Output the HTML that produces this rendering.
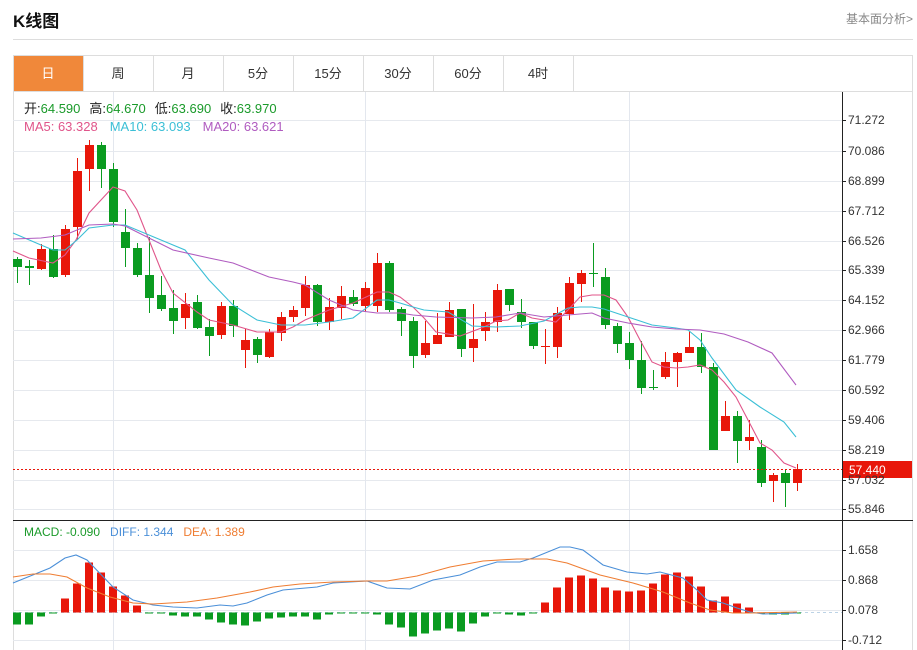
<!DOCTYPE html>
<html><head><meta charset="utf-8">
<style>
body{margin:0;width:917px;height:650px;background:#fff;font-family:"Liberation Sans","Noto Sans CJK SC",sans-serif;overflow:hidden;position:relative}
.t{position:absolute;white-space:nowrap}
</style></head><body>
<div class="t" style="left:13px;top:7px;font-size:17px;font-weight:bold;color:#111">K线图</div>
<div class="t" style="left:846px;top:10px;font-size:12px;color:#888">基本面分析&gt;</div>
<div style="position:absolute;left:13px;top:39px;width:900px;height:1px;background:#ddd"></div>
<svg id="s" width="917" height="650" style="position:absolute;left:0;top:0" xmlns="http://www.w3.org/2000/svg" font-family="Liberation Sans, Noto Sans CJK SC, sans-serif">
<rect x="13.5" y="55.5" width="899" height="600" fill="none" stroke="#ddd"/>
<line x1="13" y1="91.5" x2="913" y2="91.5" stroke="#ddd"/>
<rect x="14" y="56" width="69" height="35" fill="#f0883a"/>
<g stroke="#ddd"><line x1="83.5" y1="56" x2="83.5" y2="91"/><line x1="153.5" y1="56" x2="153.5" y2="91"/><line x1="223.5" y1="56" x2="223.5" y2="91"/><line x1="293.5" y1="56" x2="293.5" y2="91"/><line x1="363.5" y1="56" x2="363.5" y2="91"/><line x1="433.5" y1="56" x2="433.5" y2="91"/><line x1="503.5" y1="56" x2="503.5" y2="91"/><line x1="573.5" y1="56" x2="573.5" y2="91"/></g>
<g font-size="13" text-anchor="middle" fill="#333"><text x="48" y="78" fill="#fff">日</text><text x="118" y="78">周</text><text x="188" y="78">月</text><text x="258" y="78">5分</text><text x="328" y="78">15分</text><text x="398" y="78">30分</text><text x="468" y="78">60分</text><text x="538" y="78">4时</text></g>
<g id="grid" stroke="#e6e9ee"></g>
<g stroke="#e3e7ee"><line x1="113.5" y1="92" x2="113.5" y2="650"/><line x1="365.5" y1="92" x2="365.5" y2="650"/><line x1="629.5" y1="92" x2="629.5" y2="650"/></g>
<line x1="842.5" y1="92" x2="842.5" y2="650" stroke="#222"/>
<line x1="13" y1="520.5" x2="913" y2="520.5" stroke="#222"/>
<line x1="13" y1="612.5" x2="842" y2="612.5" stroke="#bcd3e6" stroke-dasharray="3,3"/>
<g id="c"></g>
<g id="ma" fill="none" stroke-width="1.1"></g>
<line x1="13" y1="469.5" x2="842" y2="469.5" stroke="#e8170a" stroke-dasharray="2,2"/>
<rect x="843" y="461" width="69" height="17" fill="#e8170a"/>
<text x="849" y="474" font-size="12" fill="#fff">57.440</text>
<g font-size="12" fill="#333" id="ax"></g>
<text x="24" y="113" font-size="13"><tspan fill="#222">开:</tspan><tspan fill="#1a9a2a">64.590</tspan><tspan fill="#222" dx="9">高:</tspan><tspan fill="#1a9a2a">64.670</tspan><tspan fill="#222" dx="9">低:</tspan><tspan fill="#1a9a2a">63.690</tspan><tspan fill="#222" dx="9">收:</tspan><tspan fill="#1a9a2a">63.970</tspan></text>
<text x="24" y="131" font-size="13"><tspan fill="#e0558a">MA5: 63.328</tspan><tspan fill="#3bbfd6" dx="12">MA10: 63.093</tspan><tspan fill="#b05cc0" dx="12">MA20: 63.621</tspan></text>
<text x="24" y="536" font-size="12"><tspan fill="#1a9a2a">MACD: -0.090</tspan><tspan fill="#4a8fd8" dx="10">DIFF: 1.344</tspan><tspan fill="#ef7d32" dx="10">DEA: 1.389</tspan></text>
</svg>
<script>
var NS="http://www.w3.org/2000/svg";
function el(p,t,a){var e=document.createElementNS(NS,t);for(var k in a)e.setAttribute(k,a[k]);p.appendChild(e);return e;}
var g=document.getElementById('grid'),ax=document.getElementById('ax');
var ticks=[["71.272",120],["70.086",151],["68.899",181],["67.712",211],["66.526",241],["65.339",270],["64.152",300],["62.966",330],["61.779",360],["60.592",390],["59.406",420],["58.219",450],["57.032",480],["55.846",509],["1.658",550],["0.868",580],["0.078",610],["-0.712",640]];
ticks.forEach(function(t){el(g,'line',{x1:13,x2:842,y1:t[1]+.5,y2:t[1]+.5});el(ax,'line',{x1:842,x2:846,y1:t[1]+.5,y2:t[1]+.5,stroke:'#222'});var tx=el(ax,'text',{x:848,y:t[1]+4});tx.textContent=t[0];});
// [c(1=red,0=green), bodyTop, bodyBot, wickTop, wickBot]
var C=[[0,259,267,257,283],[0,266,268,260,285],[1,249,269,244,270],[0,249,277,235,278],[1,229,275,225,277],[1,171,227,158,240],[1,145,169,140,191],[0,145,169,142,188],[0,169,222,163,227],[0,232,248,209,267],[0,248,275,243,277],[0,275,298,237,313],[0,295,309,276,311],[0,308,321,290,334],[1,304,318,293,329],[0,302,328,295,329],[0,327,336,319,356],[1,306,335,302,339],[0,306,326,300,337],[1,340,350,329,368],[0,339,355,337,363],[1,332,357,329,358],[1,317,333,312,341],[1,310,317,306,322],[1,285,308,276,316],[0,285,322,284,326],[1,307,322,298,330],[1,296,308,286,319],[0,297,304,290,306],[1,288,306,282,312],[1,263,306,253,312],[0,263,310,261,312],[0,309,321,307,336],[0,321,356,317,368],[1,343,355,321,358],[1,335,344,313,344],[1,310,337,302,337],[0,309,349,309,357],[1,339,348,304,362],[1,322,331,312,341],[1,290,322,284,332],[0,289,305,289,311],[0,312,322,299,328],[0,322,346,322,349],[1,346,347,329,364],[1,313,347,307,358],[1,283,314,277,320],[1,273,284,270,302],[0,273,274,243,287],[0,277,325,268,329],[0,326,344,323,353],[0,343,360,332,369],[0,360,388,341,394],[0,387,388,370,390],[1,362,377,352,379],[1,353,362,352,387],[1,347,353,331,353],[0,347,367,333,373],[0,367,450,363,450],[1,416,431,401,431],[0,416,441,411,463],[1,437,441,420,450],[0,447,483,440,487],[1,475,481,473,502],[0,473,483,469,507],[1,469,483,464,491]];
var cg=document.getElementById('c');
C.forEach(function(d,i){var x=17+12*i,col=d[0]?'#e8170a':'#0a9b20';
el(cg,'line',{x1:x+.5,x2:x+.5,y1:d[3],y2:d[4],stroke:col});
el(cg,'rect',{x:x-4,y:d[1],width:9,height:Math.max(1,d[2]-d[1]),fill:col});});
var M=[-12,-12,-4,-1,14,29,50,40,26,17,7,0,0,-3,-4,-4,-7,-10,-12,-13,-9,-6,-5,-4,-4,-7,-2,0,0,-1,-2,-12,-15,-24,-21,-18,-16,-19,-11,-4,0,-2,-3,0,10,25,35,37,34,25,22,21,22,29,38,40,36,26,12,16,9,5,-1,-2,-2,-1];
var mz=[613,612.5];
M.forEach(function(v,i){var x=17+12*i;if(v==0)v=-1;var y0=612.5,y1=612.5-v;el(cg,'rect',{x:x-4,y:Math.min(y0,y1),width:8,height:Math.abs(v),fill:v>0?'#e8170a':'#0a9b20'});});
var mg=document.getElementById('ma');
function pl(pts,col){el(mg,'polyline',{points:pts,stroke:col});}
pl("13,251 29,258 53,263 65,255 76,240 89,213 113,187 125,191 137,210 149,240 161,270 173,293 197,312 209,320 233,325 257,332 281,332 293,327 305,320 329,310 353,303 377,292 389,292 400,297 413,307 424,318 436,332 460,336 484,327 496,321 508,320 520,313 532,318 556,322 568,310 580,297 592,295 604,295 616,300 628,317 640,340 652,362 664,367 676,368 688,367 700,365 712,370 724,382 736,397 748,420 760,443 772,450 784,463 796,468","#e0558a");
pl("13,233 41,245 53,250 65,250 77,240 89,228 113,225 125,225 149,235 173,245 185,250 209,280 233,305 257,320 281,325 305,325 329,322 353,318 377,300 389,300 400,303 413,307 424,310 448,312 472,326 496,327 520,326 544,321 568,308 580,307 592,307 604,309 628,317 652,325 676,328 688,330 700,340 712,358 736,390 760,407 784,422 796,437","#3bbfd6");
pl("13,239 41,238 65,235 89,225 113,224 125,226 149,238 173,250 209,258 233,263 269,277 293,282 305,285 329,300 353,310 377,313 400,313 413,315 436,317 472,318 496,317 520,313 544,317 568,315 592,313 604,318 628,323 652,327 676,329 700,330 724,334 748,342 772,353 796,385","#b05cc0");
pl("13,583 50,568 65,558 76,555 87,560 113,587 133,600 153,605 173,607 197,608 220,605 233,606 247,603 267,595 283,590 317,587 333,583 367,581 387,588 410,589 433,580 460,575 480,567 497,562 520,562 533,558 560,547 570,547 583,550 603,565 627,572 647,574 660,572 683,578 697,590 707,600 723,603 737,608 750,612 763,614 797,613","#4a8fd8");
pl("13,577 33,574 50,574 67,577 87,588 110,597 133,603 153,604 187,602 217,598 250,592 273,587 300,584 333,582 367,581 387,581 417,576 450,567 483,561 517,559 547,559 567,563 600,575 633,583 663,592 690,603 710,610 733,613 750,613 797,612","#ef7d32");
</script>
</body></html>
